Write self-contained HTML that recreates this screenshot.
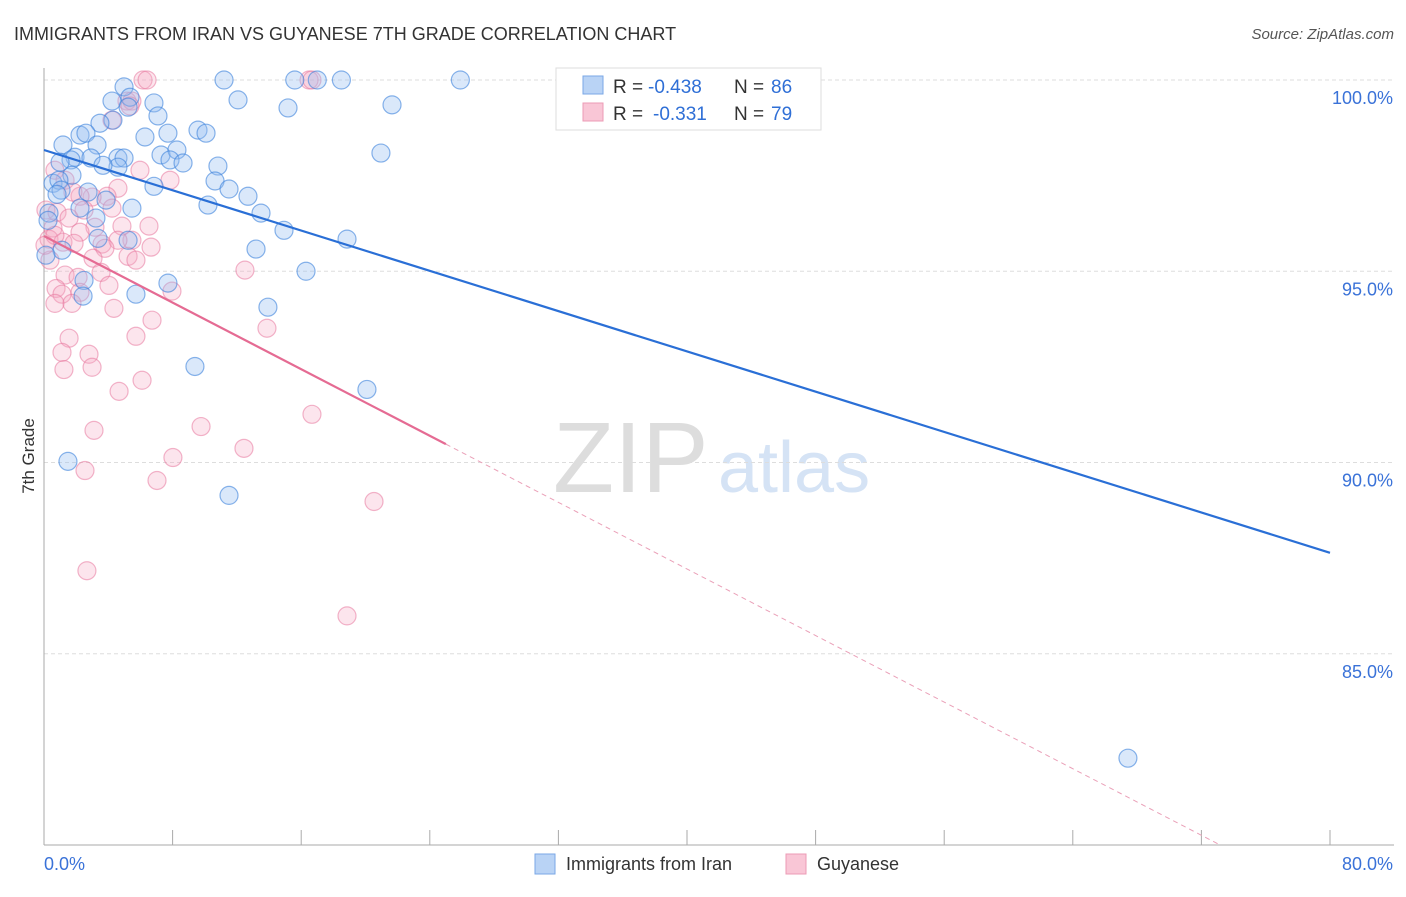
<!DOCTYPE html>
<html><head><meta charset="utf-8">
<style>
body{margin:0;background:#fff;font-family:"Liberation Sans",sans-serif;}
svg text{font-family:"Liberation Sans",sans-serif;}
</style></head>
<body>
<svg id="chart" width="1406" height="892" xmlns="http://www.w3.org/2000/svg">
<text x="14" y="40" font-size="18" fill="#333">IMMIGRANTS FROM IRAN VS GUYANESE 7TH GRADE CORRELATION CHART</text>
<text x="1394" y="39" font-size="15" fill="#555" font-style="italic" text-anchor="end">Source: ZipAtlas.com</text>
<g>
<text x="553" y="492" font-size="100" fill="#ddd" font-family="Liberation Serif, serif">ZIP</text>
<text x="718" y="492" font-size="72" fill="#d5e3f5">atlas</text>
</g>
<g id="grid"></g>
<g id="axes"></g>
<g id="points"></g>
<g id="lines"></g>
<text x="34" y="456" font-size="17" fill="#333" transform="rotate(-90 34 456)" text-anchor="middle">7th Grade</text>
<g>
<rect x="556" y="68" width="265" height="62" fill="#fff" stroke="#ddd"/>
<rect x="583" y="76" width="20" height="18" fill="#b9d3f5" stroke="#7aa7e6"/>
<rect x="583" y="103" width="20" height="18" fill="#f9c6d6" stroke="#ec9bb5"/>
<text x="613" y="93" font-size="19" fill="#333">R =</text>
<text x="648" y="93" font-size="19" fill="#2f6fd6">-0.438</text>
<text x="734" y="93" font-size="19" fill="#333">N =</text>
<text x="771" y="93" font-size="19" fill="#2f6fd6">86</text>
<text x="613" y="120" font-size="19" fill="#333">R =</text>
<text x="653" y="120" font-size="19" fill="#2f6fd6">-0.331</text>
<text x="734" y="120" font-size="19" fill="#333">N =</text>
<text x="771" y="120" font-size="19" fill="#2f6fd6">79</text>
</g>
<g>
<rect x="535" y="854" width="20" height="20" fill="#b9d3f5" stroke="#7aa7e6"/>
<text x="566" y="870" font-size="18" fill="#333">Immigrants from Iran</text>
<rect x="786" y="854" width="20" height="20" fill="#f9c6d6" stroke="#ec9bb5"/>
<text x="817" y="870" font-size="18" fill="#333">Guyanese</text>
</g>
</svg>
<script>
const blueX=[4.98,11.2,15.6,18.5,25.9,17.0,5.35,4.23,6.84,12.07,15.18,21.65,5.23,4.29,7.09,3.48,6.28,7.71,9.58,10.08,2.24,1.18,2.61,3.30,20.96,1.93,1.68,1.0,2.92,4.60,4.98,7.28,8.27,7.84,8.65,4.60,3.67,10.82,10.64,1.74,0.56,0.93,6.84,11.51,12.69,1.06,2.74,3.86,5.47,10.2,2.24,13.5,3.23,0.31,14.93,18.85,13.19,1.12,3.36,5.23,16.3,7.71,2.49,5.72,2.43,13.93,9.39,20.09,1.49,11.51,67.43,0.12,0.25,0.81];
const blueY=[99.82,100,100,100,100,100,99.55,99.45,99.40,99.48,99.27,99.35,99.29,98.95,99.06,98.87,98.51,98.61,98.69,98.61,98.56,98.30,98.61,98.30,98.09,97.98,97.91,97.85,97.96,97.96,97.96,98.04,98.17,97.91,97.83,97.72,97.77,97.75,97.36,97.51,97.30,97.38,97.22,97.15,96.96,97.12,97.07,96.86,96.65,96.73,96.65,96.52,96.39,96.52,96.07,95.84,95.58,95.55,95.86,95.81,95.0,94.69,94.76,94.40,94.35,94.06,92.51,91.91,90.03,89.14,82.27,95.42,96.33,97.01];
const pinkX=[6.16,6.41,16.49,16.67,5.16,5.47,5.35,4.23,0.68,1.31,5.97,7.84,4.60,3.92,2.99,2.24,1.80,0.12,0.81,2.49,4.23,1.56,6.53,4.85,3.17,2.24,0.56,0.31,1.18,0.68,1.87,3.61,5.47,4.60,3.79,6.66,3.05,5.23,5.72,0.37,1.31,2.12,3.55,12.5,4.04,2.24,0.75,7.96,1.12,1.74,0.68,4.35,6.72,13.87,1.56,5.72,1.12,2.80,2.99,1.24,6.10,4.67,16.67,9.77,3.11,12.44,8.02,2.55,7.03,20.53,2.67,18.85,0.06];
const pinkY=[100,100,100,100,99.45,99.45,99.32,98.95,97.64,97.38,97.64,97.38,97.17,96.96,96.94,96.96,97.07,96.60,96.54,96.60,96.65,96.39,96.18,96.18,96.15,96.02,96.13,95.84,95.76,95.94,95.73,95.71,95.81,95.81,95.60,95.63,95.34,95.39,95.29,95.29,94.90,94.84,94.97,95.03,94.63,94.45,94.55,94.48,94.40,94.16,94.16,94.03,93.72,93.51,93.25,93.30,92.88,92.83,92.49,92.43,92.15,91.86,91.26,90.94,90.84,90.37,90.13,89.79,89.53,88.98,87.17,85.99,95.68];
const yTicks=[100,95,90,85];
const yTickLabels=["100.0%","95.0%","90.0%","85.0%"];
const xTicks=[0,8,16,24,32,40,48,56,64,72,80];
const blueTrend=[98.17,87.64];
const pinkTrend=[95.92,80.03,73.03];
const pinkSolidEnd=25;

const NS="http://www.w3.org/2000/svg";
const X0=44,X1=1330,Y0=845,Y1=80;
const sx=v=>X0+(v/80)*(X1-X0);
const sy=v=>Y0-((v-80)/20)*(Y0-Y1);
function mk(tag,attrs,parent){const e=document.createElementNS(NS,tag);for(const k in attrs)e.setAttribute(k,attrs[k]);parent.appendChild(e);return e;}
const grid=document.getElementById('grid'),axes=document.getElementById('axes'),pts=document.getElementById('points'),lines=document.getElementById('lines');
yTicks.forEach((t,i)=>{
 const l=mk('line',{x1:X0,x2:1394,y1:sy(t),y2:sy(t),stroke:'#ddd','stroke-dasharray':'4 3'},grid);
 
 
 const tx=mk('text',{x:1393,y:sy(t)+24,'font-size':18,fill:'#3a72d8','text-anchor':'end'},grid);
 tx.textContent=yTickLabels[i];
 
 
});
const ax=mk('line',{x1:X0,x2:X0,y1:68,y2:Y0,stroke:'#aaa'},axes);


const bx=mk('line',{x1:X0,x2:1394,y1:Y0,y2:Y0,stroke:'#aaa'},axes);


xTicks.forEach(t=>{
 const l=mk('line',{x1:sx(t),x2:sx(t),y1:830,y2:Y0,stroke:'#aaa'},axes);
 
 
});
const xl0=mk('text',{x:44,y:870,'font-size':18,fill:'#3a72d8'},axes);xl0.textContent='0.0%';


const xl1=mk('text',{x:1393,y:870,'font-size':18,fill:'#3a72d8','text-anchor':'end'},axes);xl1.textContent='80.0%';


pinkX.forEach((v,i)=>{
 const c=mk('circle',{cx:sx(v),cy:sy(pinkY[i]),r:9,fill:'rgba(246,170,195,0.3)',stroke:'rgba(232,120,158,0.55)','stroke-width':1.2},pts);
 
 
});
blueX.forEach((v,i)=>{
 const c=mk('circle',{cx:sx(v),cy:sy(blueY[i]),r:9,fill:'rgba(150,190,240,0.35)',stroke:'rgba(60,130,220,0.6)','stroke-width':1.2},pts);
 
 
});
const bl=mk('line',{x1:sx(0),y1:sy(blueTrend[0]),x2:sx(80),y2:sy(blueTrend[1]),stroke:'#2a6fd6','stroke-width':2.2},lines);


const slope=(pinkTrend[1]-pinkTrend[0])/pinkTrend[2];
const ps=mk('line',{x1:sx(0),y1:sy(pinkTrend[0]),x2:sx(pinkSolidEnd),y2:sy(pinkTrend[0]+slope*pinkSolidEnd),stroke:'#e56b93','stroke-width':2.2},lines);


const pd=mk('line',{x1:sx(pinkSolidEnd),y1:sy(pinkTrend[0]+slope*pinkSolidEnd),x2:sx(pinkTrend[2]),y2:sy(pinkTrend[1]),stroke:'#eaa0b8','stroke-width':1,'stroke-dasharray':'5 4'},lines);


</script>
</body></html>
